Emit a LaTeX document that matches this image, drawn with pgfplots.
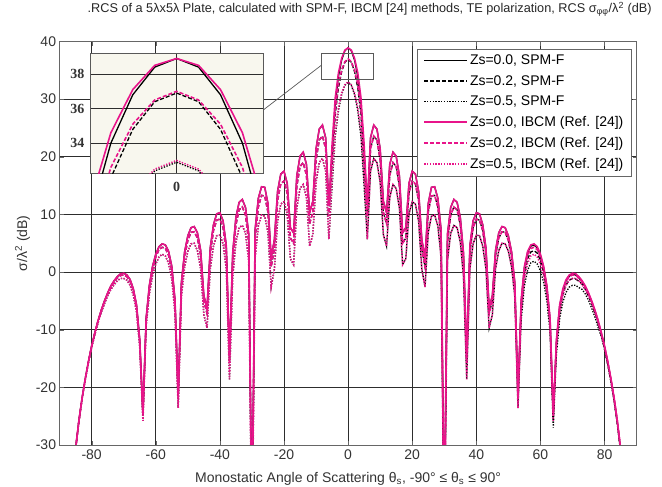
\documentclass[border=0pt]{standalone}
\usepackage{fontspec}
\setmainfont{Liberation Sans}
\newfontfamily\seriffont{Liberation Serif}
\usepackage{pgfplots}
\pgfplotsset{compat=1.18}
\usepackage{pgfplotstable}
\definecolor{rcspink}{RGB}{232,20,138}
\definecolor{gridc}{RGB}{45,45,45}
\definecolor{insetbg}{RGB}{248,247,238}

\pgfplotstableread{
t i0 i2 i5 s0 s2 s5
-85 -30.6 -30.6 -30.7 -30.6 -30.6 -30.7
-84 -25.9 -25.9 -26.0 -25.9 -25.9 -26.0
-83 -21.9 -22.0 -22.0 -21.9 -22.0 -22.0
-82 -18.5 -18.6 -18.7 -18.5 -18.6 -18.7
-81 -15.5 -15.6 -15.7 -15.5 -15.6 -15.7
-80 -12.8 -12.9 -13.1 -12.8 -12.9 -13.1
-79 -10.5 -10.6 -10.8 -10.5 -10.6 -10.8
-78 -8.4 -8.5 -8.8 -8.4 -8.5 -8.8
-77 -6.6 -6.7 -7.0 -6.6 -6.7 -7.0
-76 -5.0 -5.1 -5.5 -5.0 -5.1 -5.5
-75 -3.6 -3.8 -4.1 -3.6 -3.8 -4.1
-74 -2.4 -2.6 -3.0 -2.4 -2.6 -3.0
-73 -1.5 -1.7 -2.2 -1.5 -1.7 -2.2
-72 -0.8 -1.0 -1.5 -0.8 -1.0 -1.5
-71 -0.3 -0.6 -1.1 -0.3 -0.6 -1.1
-70 -0.2 -0.5 -1.1 -0.2 -0.5 -1.1
-69 -0.5 -0.8 -1.4 -0.5 -0.8 -1.4
-68 -1.3 -1.6 -2.3 -1.3 -1.6 -2.3
-67 -2.9 -3.2 -4.0 -2.9 -3.2 -4.0
-66 -5.7 -6.1 -6.9 -5.7 -6.1 -6.9
-65 -11.7 -12.1 -13.0 -11.7 -12.1 -13.0
-64 -24.5 -24.9 -25.8 -24.5 -24.9 -25.8
-63 -8.0 -8.4 -9.3 -8.0 -8.4 -9.3
-62 -2.3 -2.8 -3.8 -2.3 -2.8 -3.8
-61 1.0 0.5 -0.6 1.0 0.5 -0.6
-60 3.1 2.6 1.4 3.1 2.6 1.4
-59 4.4 3.9 2.6 4.4 3.9 2.6
-58 4.9 4.3 3.1 4.9 4.3 3.1
-57 4.7 4.1 2.8 4.7 4.1 2.8
-56 3.6 2.9 1.5 3.6 2.9 1.5
-55 1.0 0.3 -1.2 1.0 0.3 -1.2
-54 -4.8 -5.5 -7.1 -4.8 -5.5 -7.1
-53 -21.2 -21.9 -23.6 -21.2 -21.9 -23.6
-52 -1.8 -2.5 -4.2 -1.8 -2.5 -4.2
-51 3.5 2.7 0.9 3.5 2.7 0.9
-50 6.3 5.5 3.6 6.3 5.5 3.6
-49 7.7 6.9 4.9 7.7 6.9 4.9
-48 7.9 7.0 5.0 7.9 7.0 5.0
-47 6.8 5.9 3.7 6.8 5.9 3.7
-46 3.8 2.9 0.6 3.8 2.9 0.6
-45 -4.1 -5.0 -7.4 -4.1 -5.0 -7.4
-44 -6.2 -7.2 -9.7 -6.2 -7.2 -9.7
-43 4.2 3.2 0.6 4.2 3.2 0.6
-42 8.2 7.2 4.5 8.2 7.2 4.5
-41 10.1 9.0 6.3 10.1 9.0 6.3
-40 10.3 9.2 6.4 10.3 9.2 6.4
-39 8.9 7.7 4.9 8.9 7.7 4.9
-38 4.6 3.4 0.6 4.6 3.4 0.6
-37 -14.5 -15.7 -18.6 -14.5 -15.7 -18.6
-36 3.3 2.0 -0.9 3.3 2.0 -0.9
-35 9.5 8.2 5.2 9.5 8.2 5.2
-34 12.1 10.8 7.7 12.1 10.8 7.7
-33 12.6 11.3 8.1 12.6 11.3 8.1
-32 11.2 9.9 6.7 11.2 9.9 6.7
-31 6.6 5.2 2.0 6.6 5.2 2.0
-30 -45.0 -46.0 -50.0 -45.0 -46.0 -50.0
-29 7.4 6.0 2.6 7.4 6.0 2.6
-28 12.8 11.3 8.0 12.8 11.3 8.0
-27 14.8 13.3 9.9 14.8 13.3 9.9
-26 14.7 13.2 9.7 14.7 13.2 9.7
-25 11.9 10.4 6.9 11.9 10.4 6.9
-24 2.5 0.9 -2.6 2.5 0.9 -2.6
-23 5.6 4.0 0.5 5.6 4.0 0.5
-22 14.0 12.4 8.8 14.0 12.4 8.8
-21 17.0 15.3 11.8 17.0 15.3 11.8
-20 17.5 15.8 12.2 17.5 15.8 12.2
-19 15.4 13.7 10.1 15.4 13.7 10.1
-18 7.7 5.9 2.3 7.7 5.9 2.3
-17 6.8 5.0 1.3 6.8 5.0 1.3
-16 16.7 14.9 11.1 16.7 14.9 11.1
-15 20.1 18.3 14.5 20.1 18.3 14.5
-14 20.8 19.0 15.2 20.8 19.0 15.2
-13 18.7 16.8 13.0 18.7 16.8 13.0
-12 10.3 8.4 4.5 10.3 8.4 4.5
-11 12.3 10.4 6.5 12.3 10.4 6.5
-10 21.4 19.5 15.6 21.4 19.5 15.6
-9 24.8 22.9 19.0 24.8 22.9 19.0
-8 25.5 23.6 19.7 25.5 23.6 19.7
-7 23.3 21.4 17.5 23.3 21.4 17.5
-6 11.6 9.7 5.7 11.6 9.7 5.7
-5 22.1 20.1 16.2 20.5 18.6 14.7
-4 30.3 28.3 24.4 29.4 27.4 23.5
-3 34.6 32.6 28.6 34.0 32.0 28.0
-2 37.1 35.1 31.1 36.8 34.8 30.8
-1 38.5 36.5 32.5 38.4 36.4 32.4
0 38.9 37.0 33.0 38.9 36.9 32.9
1 38.5 36.5 32.5 38.4 36.4 32.4
2 37.1 35.1 31.1 36.8 34.8 30.8
3 34.6 32.6 28.6 34.0 32.0 28.0
4 30.3 28.3 24.4 29.4 27.4 23.5
5 22.1 20.1 16.2 20.5 18.6 14.7
6 11.6 9.7 5.7 11.6 9.7 5.7
7 23.3 21.4 17.5 23.3 21.4 17.5
8 25.5 23.6 19.7 25.5 23.6 19.7
9 24.8 22.9 19.0 24.8 22.9 19.0
10 21.4 19.5 15.6 21.4 19.5 15.6
11 12.3 10.4 6.5 12.3 10.4 6.5
12 10.3 8.4 4.5 10.3 8.4 4.5
13 18.7 16.8 13.0 18.7 16.8 13.0
14 20.8 19.0 15.2 20.8 19.0 15.2
15 20.1 18.3 14.5 20.1 18.3 14.5
16 16.7 14.9 11.1 16.7 14.9 11.1
17 6.8 5.0 1.3 6.8 5.0 1.3
18 7.7 5.9 2.3 7.7 5.9 2.3
19 15.4 13.7 10.1 15.4 13.7 10.1
20 17.5 15.8 12.2 17.5 15.8 12.2
21 17.0 15.3 11.8 17.0 15.3 11.8
22 14.0 12.4 8.8 14.0 12.4 8.8
23 5.6 4.0 0.5 5.6 4.0 0.5
24 2.5 0.9 -2.6 2.5 0.9 -2.6
25 11.9 10.4 6.9 11.9 10.4 6.9
26 14.7 13.2 9.7 14.7 13.2 9.7
27 14.8 13.3 9.9 14.8 13.3 9.9
28 12.8 11.3 8.0 12.8 11.3 8.0
29 7.4 6.0 2.6 7.4 6.0 2.6
30 -45.0 -46.0 -50.0 -45.0 -46.0 -50.0
31 6.6 5.2 2.0 6.6 5.2 2.0
32 11.2 9.9 6.7 11.2 9.9 6.7
33 12.6 11.3 8.1 12.6 11.3 8.1
34 12.1 10.8 7.7 12.1 10.8 7.7
35 9.5 8.2 5.2 9.5 8.2 5.2
36 3.3 2.0 -0.9 3.3 2.0 -0.9
37 -14.5 -15.7 -18.6 -14.5 -15.7 -18.6
38 4.6 3.4 0.6 4.6 3.4 0.6
39 8.9 7.7 4.9 8.9 7.7 4.9
40 10.3 9.2 6.4 10.3 9.2 6.4
41 10.1 9.0 6.3 10.1 9.0 6.3
42 8.2 7.2 4.5 8.2 7.2 4.5
43 4.2 3.2 0.6 4.2 3.2 0.6
44 -6.2 -7.2 -9.7 -6.2 -7.2 -9.7
45 -4.1 -5.0 -7.4 -4.1 -5.0 -7.4
46 3.8 2.9 0.6 3.8 2.9 0.6
47 6.8 5.9 3.7 6.8 5.9 3.7
48 7.9 7.0 5.0 7.9 7.0 5.0
49 7.7 6.9 4.9 7.7 6.9 4.9
50 6.3 5.5 3.6 6.3 5.5 3.6
51 3.5 2.7 0.9 3.5 2.7 0.9
52 -1.8 -2.5 -4.2 -1.8 -2.5 -4.2
53 -21.2 -21.9 -23.6 -21.2 -21.9 -23.6
54 -4.8 -5.5 -7.1 -5.0 -6.1 -8.3
55 1.0 0.3 -1.2 0.8 -0.3 -2.4
56 3.6 2.9 1.5 3.4 2.3 0.3
57 4.7 4.1 2.8 4.5 3.5 1.6
58 4.9 4.3 3.1 4.7 3.7 1.9
59 4.4 3.9 2.6 4.2 3.3 1.4
60 3.1 2.6 1.4 2.9 2.0 0.2
61 1.0 0.5 -0.6 0.8 -0.1 -1.8
62 -2.3 -2.8 -3.8 -2.5 -3.4 -5.0
63 -8.0 -8.4 -9.3 -8.2 -9.0 -10.5
64 -24.5 -24.9 -25.8 -24.7 -25.5 -27.0
65 -11.7 -12.1 -13.0 -11.9 -12.7 -14.2
66 -5.7 -6.1 -6.9 -5.9 -6.7 -8.1
67 -2.9 -3.2 -4.0 -3.1 -3.8 -5.2
68 -1.3 -1.6 -2.3 -1.5 -2.2 -3.5
69 -0.5 -0.8 -1.4 -0.7 -1.4 -2.6
70 -0.2 -0.5 -1.1 -0.4 -1.1 -2.3
71 -0.3 -0.6 -1.1 -0.5 -1.2 -2.3
72 -0.8 -1.0 -1.5 -1.0 -1.6 -2.7
73 -1.5 -1.7 -2.2 -1.7 -2.1 -3.0
74 -2.4 -2.6 -3.0 -2.6 -3.0 -3.8
75 -3.6 -3.8 -4.1 -3.8 -4.2 -4.9
76 -5.0 -5.1 -5.5 -5.2 -5.5 -6.3
77 -6.6 -6.7 -7.0 -6.8 -7.1 -7.8
78 -8.4 -8.5 -8.8 -8.6 -8.9 -9.6
79 -10.5 -10.6 -10.8 -10.7 -11.0 -11.2
80 -12.8 -12.9 -13.1 -13.0 -13.3 -13.5
81 -15.5 -15.6 -15.7 -15.7 -16.0 -16.1
82 -18.5 -18.6 -18.7 -18.7 -19.0 -19.1
83 -21.9 -22.0 -22.0 -22.1 -22.4 -22.4
84 -25.9 -25.9 -26.0 -26.1 -26.3 -26.4
85 -30.6 -30.6 -30.7 -30.8 -31.0 -31.1
}\rcs

\tikzset{
  kSolid/.style={draw=black, line width=1.3pt},
  kDash/.style={draw=black, line width=1.3pt, dash pattern=on 4pt off 2pt},
  kDot/.style={draw=black, line width=1.3pt, dash pattern=on 1.3pt off 1.5pt},
  pSolid/.style={draw=rcspink, line width=1.6pt},
  pDash/.style={draw=rcspink, line width=1.6pt, dash pattern=on 4pt off 2pt},
  pDot/.style={draw=rcspink, line width=1.6pt, dash pattern=on 1.3pt off 1.5pt},
}

\begin{document}
\begin{tikzpicture}
\path[use as bounding box] (-59.6pt,-42pt) rectangle (602.4pt,445pt);
\begin{axis}[
  at={(0pt,0pt)}, anchor=south west,
  scale only axis, width=577pt, height=403.5pt,
  xmin=-90, xmax=90, ymin=-30, ymax=40,
  xtick={-80,-60,...,80}, ytick={-30,-20,...,40},
  grid=major, grid style={gridc, line width=0.7pt},
  axis line style={gray!80!black, line width=0.8pt},
  tick align=inside, tick style={gray!80!black}, major tick length=4pt,
  /pgf/number format/assume math mode=true,
  ticklabel style={font=\fontsize{14}{16}\selectfont, text=black!80},
  xticklabel style={yshift=-1pt},
  xlabel={Monostatic Angle of Scattering θ\textsubscript{s}, -90° ≤ θ\textsubscript{s} ≤ 90°},
  ylabel={σ/λ\textsuperscript{2} (dB)},
  label style={font=\fontsize{14}{16}\selectfont, text=black!80},
  xlabel style={at={(axis description cs:0.5,0)}, anchor=center, yshift=-34pt},
  ylabel style={at={(axis description cs:0,0.5)}, anchor=center, rotate=0, yshift=37pt},
  legend style={at={(1,1)}, anchor=north east, xshift=-5pt, yshift=-7pt,
    draw=gray!80!black, fill=white, font=\fontsize{14}{16}\selectfont,
    row sep=5.3pt, inner xsep=6pt, inner ysep=4pt, cells={anchor=west}},
  legend image code/.code={\draw[#1] (0pt,0pt) -- (43pt,0pt);},
]
\addplot[kSolid] table[x=t,y=s0] {\rcs};
\addlegendentry{Zs=0.0, SPM-F}
\addplot[kDash] table[x=t,y=s2] {\rcs};
\addlegendentry{Zs=0.2, SPM-F}
\addplot[kDot] table[x=t,y=s5] {\rcs};
\addlegendentry{Zs=0.5, SPM-F}
\addplot[pSolid] table[x=t,y=i0] {\rcs};
\addlegendentry{Zs=0.0, IBCM (Ref. [24])}
\addplot[pDash] table[x=t,y=i2] {\rcs};
\addlegendentry{Zs=0.2, IBCM (Ref. [24])}
\addplot[pDot] table[x=t,y=i5] {\rcs};
\addlegendentry{Zs=0.5, IBCM (Ref. [24])}
\draw[gray!70!black, line width=0.8pt] (axis cs:-8.3,33.5) rectangle (axis cs:8.0,38.0);
\draw[gray!70!black, line width=0.7pt] (axis cs:-26.5,28.1) -- (axis cs:-8.3,35.9);
\end{axis}
\begin{axis}[
  at={(30.4pt,271.7pt)}, anchor=south west,
  scale only axis, width=173.3pt, height=120pt,
  xmin=-3.95, xmax=3.95, ymin=32.26, ymax=39.2,
  xtick={0}, ytick={34,36,38},
  grid=major, grid style={gridc, line width=0.7pt},
  axis background/.style={fill=insetbg},
  axis line style={gray!70!black, line width=0.8pt},
  tick style={draw=none},
  /pgf/number format/assume math mode=true,
  ticklabel style={font=\seriffont\bfseries\fontsize{14}{15}\selectfont, text=black!80},
  xticklabel style={yshift=-5pt},
  yticklabel style={xshift=-2pt},
]
\addplot[kSolid] table[x=t,y=s0, restrict x to domain=-6:6] {\rcs};
\addplot[kDash] table[x=t,y=s2, restrict x to domain=-6:6] {\rcs};
\addplot[kDot] table[x=t,y=s5, restrict x to domain=-6:6] {\rcs};
\addplot[pSolid] table[x=t,y=i0, restrict x to domain=-6:6] {\rcs};
\addplot[pDash] table[x=t,y=i2, restrict x to domain=-6:6] {\rcs};
\addplot[pDot] table[x=t,y=i5, restrict x to domain=-6:6] {\rcs};
\end{axis}
\node[anchor=base, font=\fontsize{12.7}{15}\selectfont, text=black!85] at (310pt,432.3pt)
  {.RCS of a 5λx5λ Plate, calculated with SPM-F, IBCM [24] methods, TE polarization, RCS σ\textsubscript{φφ}/λ\textsuperscript{2} (dB)};
\end{tikzpicture}
\end{document}
